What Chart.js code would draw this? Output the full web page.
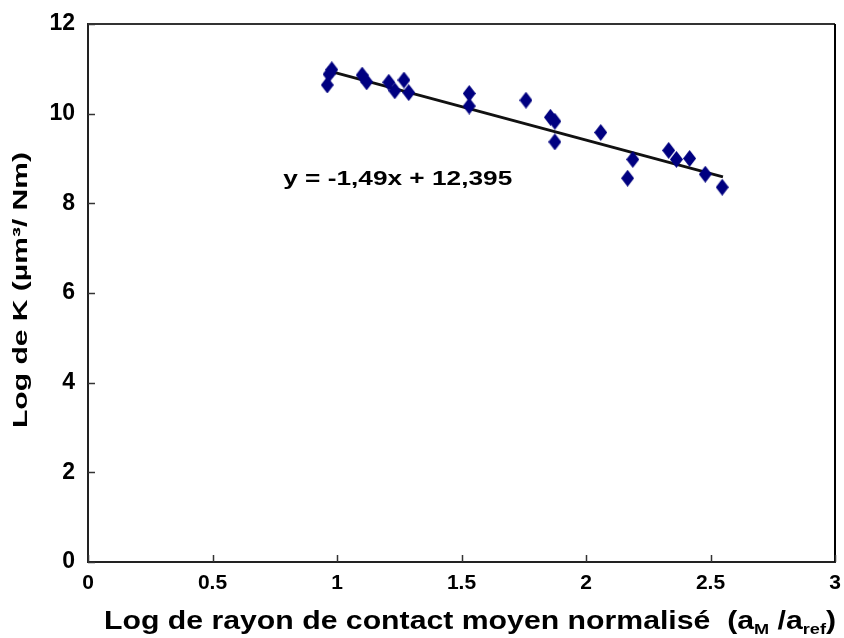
<!DOCTYPE html>
<html>
<head>
<meta charset="utf-8">
<script src="https://cdn.jsdelivr.net/npm/chart.js@4/dist/chart.umd.min.js"></script>
<style>
  body { margin: 0; background: #fff; }
  #wrap { position: relative; width: 844px; height: 638px; }
</style>
</head>
<body>
<div id="wrap"><canvas id="chart" width="844" height="638"></canvas></div>
<script>
// measured points (log of normalised contact radius vs log K)
const xVals = [0.961, 0.968, 0.979, 1.101, 1.119, 1.208, 1.232, 1.269, 1.288, 1.531, 1.531,
               1.759, 1.857, 1.875, 1.875, 2.059, 2.188, 2.167, 2.332, 2.363, 2.416, 2.479, 2.547];
const yVals = [10.64, 10.88, 10.98, 10.86, 10.71, 10.70, 10.51, 10.75, 10.47, 10.45, 10.17,
               10.30, 9.92, 9.83, 9.37, 9.58, 8.98, 8.56, 9.18, 8.98, 9.00, 8.65, 8.36];

// trend line ends
const trendX = [0.97, 2.55];
const trendY = [10.95, 8.59];

const xTicks = [0, 0.5, 1, 1.5, 2, 2.5, 3];
const yTicks = [0, 2, 4, 6, 8, 10, 12];
const eqText = 'y = -1,49x + 12,395';
const eqPos = [0.784, 8.42];

const FONT = '"Liberation Sans", Arial, sans-serif';

// diamond marker, a bit taller than wide
function diamond(w, h, color) {
  const c = document.createElement('canvas');
  c.width = w; c.height = h;
  const g = c.getContext('2d');
  g.fillStyle = color;
  g.beginPath();
  g.moveTo(w / 2, 0);
  g.lineTo(w, h / 2);
  g.lineTo(w / 2, h);
  g.lineTo(0, h / 2);
  g.closePath();
  g.fill();
  return c;
}
const marker = diamond(13, 17, '#000080');

const pts = xVals.map((x, i) => ({ x: x, y: yVals[i] }));
const trend = trendX.map((x, i) => ({ x: x, y: trendY[i] }));

// draw a string stretched to a given length
function stretched(ctx, text, font, len) {
  ctx.font = font;
  const w = ctx.measureText(text).width;
  ctx.scale(len / w, 1);
  ctx.fillText(text, 0, 0);
}

// frame, inward ticks, titles and equation
const extras = {
  id: 'extras',
  afterDraw(chart) {
    const ctx = chart.ctx;
    const a = chart.chartArea;
    const xs = chart.scales.x, ys = chart.scales.y;
    ctx.save();
    ctx.strokeStyle = '#333';
    ctx.lineWidth = 2;
    ctx.beginPath();
    ctx.moveTo(a.left, a.top); ctx.lineTo(a.right, a.top);
    ctx.stroke();
    ctx.strokeStyle = '#000';
    ctx.beginPath();
    ctx.moveTo(a.right, a.top); ctx.lineTo(a.right, a.bottom);
    ctx.stroke();
    ctx.strokeStyle = '#333';
    ctx.lineWidth = 1.5;
    yTicks.forEach(v => {
      const py = Math.round(ys.getPixelForValue(v)) + 0.5;
      ctx.beginPath(); ctx.moveTo(a.left, py); ctx.lineTo(a.left + 7, py); ctx.stroke();
    });
    xTicks.forEach(v => {
      const px = Math.round(xs.getPixelForValue(v)) + 0.5;
      ctx.beginPath(); ctx.moveTo(px, a.bottom); ctx.lineTo(px, a.bottom - 7); ctx.stroke();
    });

    ctx.fillStyle = '#000';
    ctx.textBaseline = 'alphabetic';
    ctx.textAlign = 'left';

    // equation
    ctx.save();
    ctx.translate(xs.getPixelForValue(eqPos[0]), ys.getPixelForValue(eqPos[1]));
    stretched(ctx, eqText, 'bold 20px ' + FONT, 229);
    ctx.restore();

    // y title
    ctx.save();
    ctx.translate(27, 428);
    ctx.rotate(-Math.PI / 2);
    stretched(ctx, 'Log de K (µm³/ Nm)', 'bold 20px ' + FONT, 276);
    ctx.restore();

    // x title with subscripts
    const segs = [
      ['Log de rayon de contact moyen normalisé  (a', 0],
      ['M', 1], [' /a', 0], ['ref', 1], [')', 0]
    ];
    const big = 'bold 25px ' + FONT, small = 'bold 15px ' + FONT;
    let tw = 0;
    segs.forEach(s => { ctx.font = s[1] ? small : big; tw += ctx.measureText(s[0]).width; });
    ctx.save();
    ctx.translate(104, 629);
    ctx.scale(732 / tw, 1);
    let cx = 0;
    segs.forEach(s => {
      ctx.font = s[1] ? small : big;
      ctx.fillText(s[0], cx, s[1] ? 5 : 0);
      cx += ctx.measureText(s[0]).width;
    });
    ctx.restore();
    ctx.restore();
  }
};

new Chart(document.getElementById('chart'), {
  type: 'scatter',
  data: {
    datasets: [
      {
        data: pts,
        pointStyle: marker,
        pointRadius: 8,
        pointHoverRadius: 8,
        order: 1
      },
      {
        type: 'line',
        data: trend,
        borderColor: '#111',
        borderWidth: 2.8,
        pointRadius: 0,
        fill: false,
        order: 2
      }
    ]
  },
  options: {
    responsive: false,
    animation: false,
    layout: { padding: { top: 24, right: 6, left: 0, bottom: 0 } },
    plugins: { legend: { display: false }, tooltip: { enabled: false } },
    scales: {
      x: {
        type: 'linear',
        min: 0, max: 3,
        afterBuildTicks: s => { s.ticks = xTicks.map(v => ({ value: v })); },
        afterFit: s => { s.height = 76; s.paddingLeft = 0; s.paddingRight = 0; },
        grid: { display: true, drawOnChartArea: false, drawTicks: false },
        border: { display: true, color: '#222', width: 2 },
        ticks: {
          padding: 9,
          color: '#000',
          font: { family: FONT, size: 21, weight: 'bold' },
          callback: v => String(v)
        }
      },
      y: {
        min: 0, max: 12,
        afterBuildTicks: s => { s.ticks = yTicks.map(v => ({ value: v })); },
        afterFit: s => { s.width = 88; s.paddingTop = 0; s.paddingBottom = 0; },
        grid: { display: true, drawOnChartArea: false, drawTicks: false },
        border: { display: true, color: '#222', width: 2 },
        ticks: {
          padding: 13,
          color: '#000',
          font: { family: FONT, size: 23, weight: 'bold' }
        }
      }
    }
  },
  plugins: [extras]
});
</script>
</body>
</html>
